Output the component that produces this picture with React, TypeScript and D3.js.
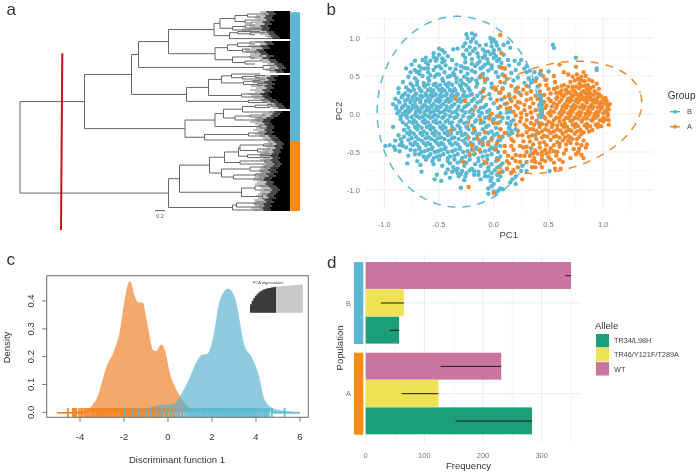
import React from "react";
import * as d3 from "d3";

// a: tree, n(depth, ...children), l(depth, tipRow)
type TreeNode = { depth: number; row?: number; children?: TreeNode[] };
const n = (depth: number, ...children: TreeNode[]): TreeNode => ({ depth, children });
const l = (depth: number, row: number): TreeNode => ({ depth, row });

const treeData = n(0,
  n(1.29,
    n(2.23,
      n(2.37,
        n(2.97,
          n(3.88,
            n(4.0,
              n(4.3, n(4.55, l(4.95, 1), l(4.8, 2.5)), n(4.5, l(4.8, 4), l(4.65, 5.5))),
              n(4.25, n(4.5, l(4.7, 6.5), l(4.9, 8)), n(4.45, l(4.85, 8.6), l(4.65, 9.4)))),
            n(4.19,
              n(4.35, l(4.8, 9.8), n(4.6, l(4.9, 10.4), l(4.7, 11.4))),
              l(5.2, 13.3))),
          n(3.9,
            n(4.15,
              n(4.35, n(4.6, l(4.9, 15), l(4.7, 16)), l(4.85, 17.3)),
              n(4.45, l(4.6, 18.5), n(4.7, l(4.9, 19.5), l(4.75, 20.5)))),
            n(4.25,
              n(4.6, l(4.85, 22), l(4.7, 23)),
              n(4.5, l(4.85, 24.5), l(4.7, 26))))),
        n(4.86, l(5.1, 26.8), n(5.0, l(5.1, 28), l(5.2, 29.3)))),
      n(3.33,
        n(3.77,
          n(4.03,
            n(4.23, l(4.8, 31), n(4.45, n(4.7, l(4.9, 31.8), l(4.8, 32.6)), l(4.9, 33.5))),
            n(4.47, n(4.65, l(4.8, 34.3), l(4.9, 35)), n(4.75, l(4.95, 35.8), l(4.85, 36.8)))),
          n(4.43, n(4.9, l(5.0, 40.5), l(5.1, 41.5)), n(4.95, l(5.05, 42), l(5.15, 43)))),
        n(4.57, n(4.85, l(5.0, 43.7), l(5.1, 44.5)), l(4.95, 45.3)))),
    n(3.3,
      n(3.9,
        n(4.07,
          n(4.45, n(4.7, n(4.95, l(5.05, 46.2), l(5.15, 47)), l(5.0, 47.8)), l(5.38, 50)),
          n(4.3, n(4.6, l(4.9, 51.5), l(4.85, 52.5)), n(4.75, l(5.0, 53.5), l(5.1, 54.5)))),
        n(4.8, n(5.0, l(5.1, 56), l(5.2, 57)), l(5.05, 58))),
      n(3.69,
        n(4.57, n(4.8, l(5.0, 60), l(5.1, 61)), l(4.9, 62)),
        l(5.2, 64)))),
  n(2.97,
    n(3.19,
      n(3.79,
        n(4.09,
          n(4.37,
            n(4.4, n(4.87, l(5.05, 66), l(5.15, 67)), n(4.75, l(5.0, 68.5), l(4.95, 70))),
            n(4.55, n(4.8, l(5.0, 71), l(5.1, 71.8)), l(5.0, 72.8))),
          n(4.4, n(4.9, l(5.0, 74), l(5.1, 75)), l(5.15, 76))),
        n(4.03,
          n(4.6, n(4.9, l(5.05, 77), l(5.15, 78)), n(4.85, l(5.0, 79), l(5.1, 80))),
          n(4.27, n(4.7, l(4.95, 81), l(5.05, 82)), n(4.8, l(5.0, 83), l(5.1, 84))))),
      n(4.43,
        n(4.7, l(5.0, 87), l(5.1, 89)),
        n(4.85, l(5.0, 91), n(5.0, l(5.1, 93), l(5.2, 94))))),
    n(4.25,
      n(4.33, n(4.7, l(5.0, 95), l(5.1, 96)), n(4.8, l(5.0, 97), l(5.1, 98))),
      l(5.0, 99))));

// depth at which each tip row of the fan turns black / grey (5.4 = the tips, i.e. a white gap)
const fanBlack = [4.96, 5.0, 4.94, 4.92, 4.96, 4.88, 4.92, 4.84, 4.88, 4.86, 4.96, 5.0, 5.04, 5.08, 5.4, 4.92, 4.96, 4.84, 4.88, 4.76,
  4.8, 4.84, 4.96, 4.88, 5.0, 5.04, 5.12, 5.16, 5.2, 5.12, 5.16, 5.4, 5.04, 4.96, 5.0, 4.92, 4.98, 4.92, 4.96, 4.88,
  4.92, 4.84, 4.88, 4.92, 5.0, 5.04, 5.12, 5.16, 5.2, 5.4, 5.12, 5.08, 5.04, 4.96, 4.9, 4.88, 4.92, 4.96, 4.96, 4.92,
  4.96, 4.92, 5.0, 5.04, 5.08, 5.12, 5.16, 5.12, 5.14, 5.08, 5.1, 5.06, 5.04, 5.08, 5.04, 5.08, 5.12, 5.08, 5.04, 5.0,
  5.04, 4.96, 5.0, 4.92, 4.9, 4.96, 4.94, 5.0, 5.04, 5.08, 5.04, 5.0, 4.96, 5.0, 4.92, 4.96, 4.9, 4.92, 4.88, 4.9];
const fanGrey = [4.8, 4.85, 4.72, 4.7, 4.78, 4.62, 4.7, 4.58, 4.62, 4.66, 4.75, 4.8, 4.9, 4.95, 5.4, 4.7, 4.8, 4.56, 4.62, 4.5,
  4.52, 4.6, 4.78, 4.62, 4.8, 4.85, 4.95, 5.0, 5.0, 4.92, 5.0, 5.4, 4.82, 4.7, 4.78, 4.66, 4.76, 4.62, 4.72, 4.6,
  4.7, 4.56, 4.62, 4.68, 4.8, 4.85, 4.95, 5.0, 5.05, 5.4, 4.98, 4.85, 4.82, 4.7, 4.65, 4.6, 4.7, 4.75, 4.72, 4.66,
  4.75, 4.7, 4.78, 4.85, 4.9, 4.95, 4.98, 4.9, 4.95, 4.85, 4.9, 4.82, 4.8, 4.86, 4.8, 4.88, 4.92, 4.85, 4.8, 4.78,
  4.8, 4.72, 4.78, 4.68, 4.66, 4.74, 4.7, 4.78, 4.82, 4.88, 4.8, 4.76, 4.72, 4.76, 4.68, 4.72, 4.66, 4.7, 4.62, 4.66];

// b: scores as x,y pairs
const pointsB = [
  -.25,1.05,-.2,1.06,-.17,1.04,-.24,1.0,-.19,.99,-.03,1.0,0,.98,-.21,.95,-.16,.94,-.26,.93,-.02,.95,.02,.94,.13,.94,-.28,.89,-.22,.88,-.13,.9,-.07,.91,-.02,.89,.03,.9,.09,.91,.15,.87,.54,.91,.55,.87,
  -.5,.86,-.47,.84,-.37,.85,-.33,.86,-.25,.84,-.19,.83,-.1,.85,-.05,.82,0,.84,.05,.85,-.55,.8,-.5,.78,-.45,.81,-.22,.79,-.15,.8,-.08,.77,-.03,.79,.02,.76,.09,.78,
  -.62,.74,-.55,.75,-.47,.73,-.42,.76,-.26,.74,-.2,.72,-.14,.75,-.06,.72,0,.74,-.72,.7,-.62,.68,-.53,.7,-.47,.68,-.38,.71,-.26,.68,-.2,.66,-.13,.69,-.05,.67,.03,.7,.13,.71,.19,.7,.25,.71,.75,.74,
  -.75,.65,-.68,.63,-.6,.65,-.53,.62,-.44,.64,-.34,.65,-.17,.63,-.1,.62,-.02,.64,.05,.62,.14,.64,.23,.66,.3,.63,-.8,.6,-.72,.58,-.63,.6,-.55,.58,-.48,.6,-.35,.59,-.27,.61,-.2,.57,-.12,.6,-.05,.57,.1,.6,.2,.58,.28,.6,.33,.57,.94,.6,.94,.58,
  -.76,.55,-.68,.53,-.6,.55,-.52,.52,-.45,.55,-.37,.54,-.3,.56,-.24,.53,-.17,.55,-.1,.53,.02,.55,.08,.52,.16,.54,.3,.55,.42,.53,.5,.56,
  -.78,.49,-.72,.47,-.65,.5,-.6,.47,-.54,.49,-.47,.46,-.4,.5,-.34,.47,-.27,.49,-.2,.46,-.13,.48,-.06,.46,.04,.49,.12,.46,.22,.48,.32,.47,.47,.45,.39,.47,
  -.83,.42,-.76,.4,-.7,.43,-.64,.41,-.59,.44,-.53,.4,-.46,.43,-.41,.41,-.34,.42,-.28,.4,-.22,.43,-.15,.4,-.08,.42,-.02,.4,.1,.41,.18,.44,.28,.41,.35,.43,.4,.36,
  -.87,.34,-.8,.35,-.74,.37,-.68,.34,-.63,.36,-.58,.33,-.52,.36,-.47,.33,-.42,.36,-.36,.33,-.3,.36,-.23,.34,-.16,.36,-.09,.33,-.02,.35,.08,.34,.2,.33,.32,.36,.42,.3,
  -.87,.28,-.81,.27,-.76,.3,-.71,.27,-.66,.3,-.62,.27,-.57,.29,-.53,.26,-.48,.29,-.43,.27,-.38,.29,-.33,.26,-.27,.29,-.2,.26,-.12,.28,-.04,.26,.05,.28,.14,.26,.23,.28,.43,.24,
  -.9,.2,-.84,.22,-.79,.19,-.74,.22,-.7,.2,-.65,.23,-.6,.2,-.56,.23,-.51,.2,-.47,.23,-.42,.2,-.37,.23,-.31,.2,-.25,.23,-.18,.2,-.1,.22,-.03,.2,.07,.19,.15,.2,.43,.18,
  -.92,.13,-.86,.15,-.81,.12,-.76,.15,-.72,.12,-.67,.15,-.63,.12,-.59,.16,-.55,.13,-.5,.16,-.46,.13,-.41,.16,-.36,.13,-.3,.16,-.23,.13,-.15,.15,-.07,.12,0,.14,.1,.13,.44,.12,
  -.89,.07,-.84,.08,-.79,.05,-.74,.08,-.7,.05,-.66,.08,-.61,.06,-.57,.09,-.53,.06,-.49,.09,-.44,.06,-.39,.09,-.33,.06,-.27,.09,-.2,.06,-.12,.08,-.04,.05,.04,.08,.44,.06,
  -.88,.01,-.83,.0,-.78,.02,-.72,-.01,-.67,.02,-.63,-.01,-.58,.02,-.54,-.01,-.49,.02,-.44,-.01,-.38,.02,-.33,-.01,-.26,.02,-.19,-.01,-.11,.01,-.03,-.01,.06,.01,.43,.0,
  -.85,-.07,-.79,-.05,-.73,-.08,-.68,-.05,-.63,-.08,-.58,-.05,-.53,-.08,-.47,-.05,-.42,-.08,-.36,-.05,-.3,-.08,-.23,-.05,-.16,-.08,-.08,-.05,0,-.07,.08,-.05,
  -.92,-.17,-.8,-.14,-.74,-.12,-.69,-.15,-.63,-.12,-.58,-.15,-.52,-.12,-.46,-.15,-.4,-.12,-.33,-.15,-.27,-.12,-.2,-.15,-.12,-.12,-.05,-.15,.03,-.12,.12,-.12,
  -.82,-.21,-.76,-.23,-.7,-.2,-.64,-.23,-.58,-.2,-.53,-.23,-.47,-.2,-.42,-.23,-.36,-.2,-.3,-.23,-.23,-.2,-.17,-.23,-.1,-.2,-.02,-.23,.06,-.2,.14,-.19,
  -.87,-.28,-.82,-.3,-.77,-.27,-.71,-.3,-.65,-.28,-.59,-.31,-.54,-.28,-.48,-.31,-.42,-.28,-.36,-.31,-.29,-.28,-.23,-.31,-.15,-.28,-.08,-.31,0,-.28,.08,-.3,
  -.9,-.35,-.84,-.37,-.78,-.34,-.72,-.37,-.66,-.35,-.6,-.38,-.54,-.35,-.48,-.38,-.41,-.35,-.35,-.38,-.28,-.35,-.21,-.38,-.13,-.35,-.05,-.37,.04,-.35,
  -.99,-.42,-.95,-.41,-.91,-.43,-.86,-.41,-.8,-.44,-.74,-.41,-.68,-.44,-.62,-.41,-.56,-.44,-.5,-.41,-.44,-.44,-.38,-.41,-.31,-.44,-.24,-.41,-.16,-.44,-.1,-.41,-.02,-.44,.06,-.42,
  -.9,-.47,-.86,-.49,-.72,-.48,-.66,-.5,-.6,-.47,-.54,-.5,-.48,-.47,-.42,-.5,-.35,-.47,-.28,-.5,-.2,-.47,-.12,-.5,-.04,-.47,.04,-.5,
  -.78,-.55,-.72,-.53,-.64,-.56,-.58,-.53,-.52,-.56,-.46,-.53,-.4,-.56,-.33,-.53,-.26,-.56,-.18,-.53,-.1,-.56,-.02,-.53,.06,-.56,
  -.79,-.65,-.7,-.62,-.62,-.6,-.56,-.62,-.5,-.6,-.42,-.62,-.36,-.6,-.3,-.62,-.22,-.6,-.14,-.62,-.06,-.6,.02,-.62,.08,-.65,
  -.67,-.67,-.55,-.66,-.47,-.68,-.37,-.7,-.42,-.73,-.33,-.72,-.27,-.68,-.2,-.72,-.12,-.68,-.05,-.7,.04,-.7,.12,-.72,.26,-.68,
  -.66,-.76,-.38,-.76,-.33,-.78,-.25,-.78,-.18,-.75,-.08,-.77,-.02,-.78,.08,-.76,.25,-.75,.51,-.75,
  -.52,-.8,-.32,-.82,-.26,-.82,-.18,-.8,-.08,-.82,-.02,-.84,.06,-.82,.2,-.82,
  -.54,-.86,-.48,-.88,-.4,-.84,-.27,-.87,-.12,-.86,-.03,-.88,.04,-.87,.17,-.86,.15,-.9,
  -.3,-.97,-.02,-.95,.0,-.92,-.05,-.98,.06,-.98,.08,-.99,-.05,-1.05,.0,-1.02,.02,-1.05,.04,-1.01];
// second pass over the crowded part of the B cloud
const pointsBDense = [
  -.7,.385,-.64,.38,-.6,.39,-.55,.385,-.49,.38,-.44,.39,-.38,.385,-.31,.38,-.25,.38,-.78,.315,-.73,.32,-.67,.31,-.6,.315,-.55,.31,-.5,.32,-.45,.31,-.4,.315,-.35,.31,-.29,.32,-.22,.31,
  -.83,.245,-.78,.24,-.72,.25,-.67,.24,-.62,.245,-.58,.24,-.54,.25,-.49,.24,-.44,.245,-.39,.24,-.34,.25,-.28,.24,-.22,.245,-.15,.24,-.87,.17,-.81,.175,-.76,.18,-.72,.17,-.67,.18,-.62,.17,-.58,.185,-.53,.175,-.49,.18,-.44,.17,-.39,.18,-.33,.17,-.27,.18,-.2,.17,-.12,.17,
  -.89,.1,-.83,.1,-.78,.09,-.74,.105,-.7,.09,-.65,.1,-.61,.09,-.57,.105,-.52,.1,-.48,.11,-.43,.1,-.38,.11,-.32,.1,-.25,.11,-.17,.1,-.09,.09,-.86,.04,-.81,.03,-.76,.045,-.71,.03,-.68,.05,-.63,.035,-.59,.045,-.55,.035,-.51,.045,-.46,.03,-.41,.045,-.35,.03,-.29,.045,-.22,.03,-.14,.04,-.06,.03,
  -.85,-.03,-.8,-.025,-.75,-.04,-.7,-.03,-.65,-.04,-.6,-.03,-.56,-.04,-.51,-.03,-.46,-.04,-.4,-.03,-.34,-.04,-.28,-.03,-.21,-.04,-.13,-.03,-.05,-.04,.03,-.03,-.83,-.11,-.77,-.1,-.71,-.11,-.65,-.1,-.6,-.11,-.55,-.1,-.49,-.11,-.44,-.1,-.38,-.11,-.31,-.1,-.24,-.11,-.17,-.1,-.09,-.11,-.01,-.1,.06,-.1,
  -.78,-.18,-.72,-.17,-.66,-.18,-.61,-.17,-.55,-.185,-.49,-.17,-.44,-.18,-.38,-.17,-.31,-.18,-.25,-.17,-.18,-.18,-.07,-.17,.02,-.18,-.79,-.25,-.73,-.26,-.67,-.25,-.61,-.26,-.56,-.25,-.5,-.26,-.45,-.25,-.39,-.26,-.33,-.25,-.26,-.26,-.19,-.25,-.13,-.26,-.05,-.25,.03,-.26,.12,-.25,
  -.85,-.33,-.75,-.32,-.69,-.33,-.62,-.32,-.57,-.33,-.51,-.32,-.45,-.33,-.38,-.32,-.32,-.33,-.25,-.32,-.18,-.33,-.1,-.33,-.02,-.32,.06,-.34,-.83,-.42,-.76,-.39,-.7,-.4,-.64,-.38,-.58,-.4,-.52,-.38,-.46,-.4,-.4,-.38,-.33,-.4,-.26,-.38,-.19,-.4,-.13,-.38,-.05,-.4,.02,-.42,
  -.76,-.47,-.68,-.46,-.63,-.49,-.57,-.46,-.51,-.49,-.45,-.46,-.38,-.49,-.31,-.46,-.24,-.49,-.16,-.46,-.08,-.49,.0,-.46,-.68,-.53,-.6,-.56,-.55,-.58,-.49,-.55,-.42,-.58,-.36,-.55,-.29,-.58,-.22,-.55,-.14,-.58,-.06,-.55,.03,-.58,
  -.4,-.65,-.33,-.64,-.25,-.64,-.17,-.66,-.09,-.65,-.02,-.66,.06,-.68,-.35,-.74,-.29,-.75,-.22,-.74,-.14,-.76,-.05,-.74,.01,-.74,-.3,-.79,-.14,-.8,-.05,-.82,.03,-.8,-.44,-.78,
  -.68,.56,-.58,.51,-.5,.52,-.42,.49,-.36,.51,-.3,.44,-.24,.46,-.16,.44,-.1,.49,-.6,.6,-.5,.63,-.4,.6,-.3,.63,-.24,.6,-.7,.55,-.15,.66,-.08,.65,-.02,.6,.07,.67,-.1,.74,-.28,.78,-.17,.86,-.08,.82,.0,.8,.05,.72,-.52,.73,-.58,.7,-.65,.71,-.45,.7,-.66,.6];
const pointsA = [
  .06,1.04,.07,.8,.07,.61,.1,.6,-.35,.2,-.26,.17,-.39,-.22,-.23,-.96,0,-1.04,.6,.65,.75,.62,.82,.55,.64,.55,.43,.57,.45,.5,.55,.5,.68,.52,.8,.49,.84,.5,.77,.46,
  -.12,.5,-.08,.45,.1,.5,.06,.42,.0,.35,.02,.32,.08,.33,.06,.28,-.1,.3,.16,.37,.2,.3,.27,.32,.3,.37,.38,.43,.48,.38,.56,.42,.62,.37,.7,.42,.72,.36,.78,.4,.83,.43,.86,.38,.94,.4,
  .14,.24,.19,.22,.25,.25,.3,.27,.38,.24,.42,.29,.52,.27,.55,.33,.6,.28,.66,.32,.7,.27,.74,.3,.78,.34,.82,.3,.85,.33,.88,.27,.92,.3,.96,.26,.58,.22,.64,.24,.68,.2,.72,.23,.76,.2,.8,.24,.84,.21,.88,.22,.92,.19,.95,.22,1.0,.19,1.02,.21,
  .12,.14,.16,.17,.2,.11,.24,.15,.3,.18,.36,.14,.4,.2,.46,.16,.5,.2,.55,.14,.6,.16,.65,.13,.69,.16,.73,.12,.77,.15,.81,.12,.85,.15,.89,.12,.93,.15,.97,.12,1.01,.14,1.04,.1,
  .12,.07,.18,.03,.22,.08,.28,.05,.33,.09,.38,.05,.47,.08,.52,.04,.57,.08,.62,.05,.66,.08,.7,.04,.74,.07,.78,.03,.82,.07,.86,.04,.9,.07,.94,.03,.98,.07,1.02,.04,1.05,.06,
  -.02,.0,.05,-.03,.2,-.02,.25,-.05,.3,-.01,.35,-.05,.41,-.02,.47,-.06,.52,-.02,.57,-.05,.62,-.01,.66,-.05,.7,-.02,.74,-.05,.79,-.02,.83,-.05,.87,-.01,.91,-.05,.95,-.02,1.0,-.05,1.04,-.02,1.05,-.08,
  .24,-.1,.3,-.08,.34,-.12,.39,-.09,.44,-.13,.5,-.1,.54,-.14,.6,-.1,.65,-.13,.7,-.09,.75,-.13,.8,-.1,.85,-.13,.9,-.09,.95,-.13,1.0,-.1,1.05,-.14,.95,-.17,
  -.18,-.2,-.08,-.24,.14,-.17,.3,-.17,.36,-.2,.42,-.17,.47,-.2,.53,-.17,.58,-.2,.64,-.17,.69,-.21,.74,-.17,.79,-.21,.85,-.18,.9,-.21,.82,-.24,
  -.15,-.32,-.02,-.34,.05,-.3,.14,-.28,.22,-.28,.3,-.24,.35,-.28,.41,-.25,.46,-.29,.52,-.25,.57,-.29,.63,-.26,.68,-.29,.74,-.26,.78,-.3,.68,-.35,.72,-.33,.82,-.35,
  -.05,-.4,.03,-.38,.1,-.42,.18,-.36,.27,-.36,.33,-.36,.39,-.33,.46,-.37,.52,-.34,.58,-.37,.63,-.35,.66,-.4,.8,-.41,.85,-.4,.84,-.44,.78,-.46,
  -.13,-.47,.02,-.47,.1,-.5,.18,-.47,.27,-.44,.34,-.45,.38,-.48,.42,-.44,.47,-.47,.52,-.45,.55,-.49,.6,-.43,.73,-.46,.77,-.5,.75,-.53,.8,-.54,.82,-.58,
  -.22,-.53,.04,-.6,.13,-.55,.17,-.58,.24,-.55,.33,-.55,.37,-.58,.4,-.52,.44,-.55,.48,-.52,.5,-.57,.57,-.55,.64,-.52,.7,-.58,
  -.28,-.63,-.07,-.64,.14,-.65,.2,-.62,.3,-.63,.38,-.63,.42,-.65,.47,-.62,.55,-.64,.63,-.63,.12,-.72,.18,-.74,.16,-.78,.26,-.86,.05,-.77,.35,-.7,.44,-.7,.56,-.72,.61,-.72];
// second pass over the crowded part of the A cloud
const pointsADense = [
  .76,.52,.8,.44,.74,.44,.72,.49,.87,.45,.9,.43,.58,.35,.64,.38,.68,.36,.75,.36,.8,.37,.83,.37,.88,.34,.91,.36,.96,.33,
  .57,.28,.62,.31,.68,.29,.72,.32,.76,.26,.8,.28,.84,.27,.87,.3,.91,.25,.94,.27,.98,.23,.62,.25,.66,.27,.7,.21,.74,.26,.78,.24,.82,.21,.86,.25,.9,.18,.94,.18,.98,.16,1.03,.17,
  .52,.17,.57,.2,.62,.19,.67,.17,.71,.18,.75,.17,.79,.19,.83,.18,.87,.19,.91,.16,.95,.15,.99,.15,1.03,.13,1.06,.13,.48,.11,.53,.1,.58,.12,.63,.1,.67,.11,.71,.09,.75,.1,.79,.09,.83,.1,.87,.09,.91,.1,.95,.09,.99,.09,1.04,.07,
  .44,.03,.5,.01,.55,.03,.6,.01,.64,.03,.68,.01,.72,.03,.76,.0,.8,.02,.84,.0,.88,.02,.92,.0,.96,.03,1.0,.01,1.04,.0,.46,-.04,.55,-.08,.6,-.05,.64,-.08,.68,-.05,.72,-.08,.77,-.06,.81,-.08,.85,-.06,.89,-.08,.93,-.05,.97,-.08,1.02,-.07,
  .37,-.14,.42,-.12,.48,-.14,.53,-.12,.58,-.15,.62,-.14,.67,-.17,.72,-.14,.77,-.16,.83,-.15,.88,-.16,.93,-.14,.98,-.16,.33,-.2,.39,-.22,.44,-.23,.5,-.22,.55,-.23,.61,-.22,.66,-.23,.71,-.22,.76,-.23,.8,-.26,.87,-.23,
  .32,-.3,.38,-.28,.44,-.31,.49,-.3,.55,-.3,.6,-.31,.65,-.31,.7,-.31,.76,-.33,.36,-.4,.42,-.38,.48,-.41,.55,-.41,.6,-.39,.7,-.38,.76,-.39,.3,-.5,.36,-.52,.44,-.5,.51,-.5,.58,-.5,.66,-.47,.35,-.62,.44,-.6,.52,-.6,.6,-.6,.24,-.63,.22,-.7,.38,-.7,
  .22,.16,.28,.12,.34,.2,.42,.12,.15,.08,.25,.01,.34,.02,.2,-.14,.28,-.14,.22,-.22,.26,-.28,.16,-.33,.1,-.25,.06,-.2,.16,-.42,.24,-.42,.3,-.43,.12,-.62,.2,-.54,.28,-.55,-.04,-.06,.0,-.12,.04,-.12,-.1,-.38,-.2,-.42,-.12,-.08,.03,.18,.1,.22,.06,.1,.22,.35,.34,.3,.42,.38,.5,.33,.46,.25,.48,.45];
// blue dots that sit over the orange ones
const pointsBTop = [.43,.2,.43,.15,.43,.1,.43,.05,.44,0,.43,-.04,.42,.25,.16,-.1,.15,-.14,.14,-.18,.16,-.22,.17,-.25,.14,-.27,.13,-.05,.18,-.08,.2,-.2,.12,.02,.15,.03,.32,.46,.34,.41,.37,.55,.43,.52,.3,-.75,.2,-.92];

const groupEllipses = [
  { group: "B", cx: -.33, cy: .03, ax: .735, ay: 0, bx: 0, by: 1.255 },
  { group: "A", cx: .557, cy: -.044, ax: .785, ay: .303, bx: .125, by: -.673 },
];
const ellipseAngles = d3.range(0, 6.3, .05);

// c: density curves
const densityX_A = [-5.05, -4.5, -3.8, -3.6, -3.4, -3.24, -2.79, -2.41, -2.18, -1.95, -1.73, -1.5, -1.35, -1.15, -.97, -.67, -.55, -.3, -.14, .09, .39, .85, 1.15, 1.45];
const densityY_A = [0, .001, .004, .012, .03, .05, .164, .23, .296, .415, .472, .415, .395, .395, .332, .224, .22, .244, .224, .14, .08, .026, .008, 0];
const densityX_B = [-2.1, -1.27, -.36, .24, .62, 1.0, 1.3, 1.53, 1.79, 2.06, 2.36, 2.74, 3.05, 3.5, 3.8, 4.1, 4.4, 4.8, 5.4, 6.0];
const densityY_B = [0, .008, .026, .03, .068, .128, .182, .206, .21, .272, .404, .445, .41, .236, .2, .14, .044, .014, .005, 0];
const rugA = [-4.55, -4.32, -4.28, -4.22, -4.18, -4.05, -3.95, -3.9, -3.8, -3.75, -3.68, -3.6, -3.52, -3.45, -3.4, -3.35, -3.28, -3.22, -3.17, -3.12, -3.06, -3.01, -2.95, -2.9, -2.84, -2.78, -2.72, -2.66, -2.6, -2.55, -2.49, -2.43, -2.37, -2.32, -2.26, -2.2, -2.14, -2.09, -2.03, -1.97, -1.91, -1.85, -1.79, -1.73, -1.67, -1.62, -1.56, -1.5, -1.44, -1.38, -1.32, -1.26, -1.2, -1.14, -1.08, -1.02, -.96, -.9, -.84, -.78, -.72, -.66, -.6, -.54, -.48, -.42, -.36, -.3, -.24, -.16, -.08, -.02, .06, .14, .22, .3, .38, .5, .62];
const rugB = [-2.0, -1.6, -1.3, -1.0, -.8, -.55, -.3, -.1, .1, .25, .4, .52, .64, .74, .84, .92, 1.0, 1.07, 1.14, 1.21, 1.28, 1.35, 1.42, 1.49, 1.56, 1.62, 1.68, 1.74, 1.8, 1.86, 1.92, 1.98, 2.04, 2.1, 2.16, 2.22, 2.28, 2.34, 2.4, 2.46, 2.52, 2.58, 2.64, 2.7, 2.76, 2.82, 2.88, 2.94, 3.0, 3.06, 3.12, 3.18, 3.24, 3.3, 3.36, 3.42, 3.48, 3.54, 3.6, 3.66, 3.72, 3.78, 3.84, 3.9, 3.96, 4.02, 4.08, 4.15, 4.22, 4.3, 4.38, 4.44, 4.5, 4.58, 4.72, 5.3];
const eigenDark = [.3, .42, .52, .6, .66, .72, .76, .79, .82, .84, .86, .87, .88, .895, .905, .915];
const eigenLight = [.92, .925, .93, .935, .94, .945, .95, .955, .96, .965, .97, .975, .98, .985, .99, 1.0];

// d: allele counts, and where each error line starts
const populations = ["B", "A"];
const alleles = ["WT", "TR46/Y121F/T289A", "TR34/L98H"];
const legendAlleles = ["TR34/L98H", "TR46/Y121F/T289A", "WT"];
const freqB = [350, 65, 57];
const freqA = [231, 124, 283.5];
const errLowB = [340, 26, 41];
const errLowA = [128, 61, 153];
const freqTicks = [0, 100, 200, 300];
const freqMinor = [50, 150, 250, 350];

const BLUE = "#5bb8d2";
const ORANGE = "#f28a2d";
const STRIP_ORANGE = "#f78c09";
const alleleColor: Record<string, string> = { "TR34/L98H": "#1b9e77", "TR46/Y121F/T289A": "#efe355", WT: "#c9749f" };
const FONT = "'Liberation Sans', Arial, sans-serif";

const pairs = (flat: number[]) => d3.range(0, flat.length, 2).map((i) => [flat[i], flat[i + 1]]);

function PanelA() {
  const x = d3.scaleLinear().domain([0, 5.4]).range([20, 290]);
  const y = d3.scaleLinear().domain([0, 100]).range([12, 212]);
  const root = d3.hierarchy<TreeNode>(treeData);
  const rowOf = new Map<any, number>();
  root.eachAfter((d) => {
    if (d.children) rowOf.set(d, (rowOf.get(d.children[0])! + rowOf.get(d.children[d.children.length - 1])!) / 2);
    else rowOf.set(d, d.data.row!);
  });
  const nodes = root.descendants();
  const rows = d3.range(fanBlack.length);
  const tipX = x(5.4);
  return (
    <g>
      {rows.map((i) => fanGrey[i] < 5.4 && <line key={i} x1={x(fanGrey[i])} x2={tipX} y1={y(i)} y2={y(i)} stroke="#a8a8a8" strokeWidth={1.6} />)}
      <g fill="none" stroke="#666" strokeWidth={1}>
        {nodes.filter((d) => d.parent).map((d, i) => (
          <path key={i} d={`M${x(d.parent!.data.depth)},${y(rowOf.get(d)!)}H${x(d.data.depth)}`} />
        ))}
        {nodes.filter((d) => d.children).map((d, i) => (
          <path key={i} d={`M${x(d.data.depth)},${y(rowOf.get(d.children![0])!)}V${y(rowOf.get(d.children![d.children!.length - 1])!)}`} />
        ))}
      </g>
      {rows.map((i) => fanBlack[i] < 5.4 && <line key={i} x1={x(fanBlack[i] + .12)} x2={tipX} y1={y(i)} y2={y(i)} stroke="#000" strokeWidth={2} />)}
      {rows.map((i) => fanBlack[i] < 5.4 && <line key={i} x1={x(fanBlack[i] - .03)} x2={tipX} y1={y(i)} y2={y(i)} stroke="#000" strokeWidth={1.2} />)}
      <rect x={290} y={12.3} width={10} height={128.7} fill={BLUE} />
      <rect x={290} y={141} width={10} height={70} fill={STRIP_ORANGE} />
      <line x1={62.3} y1={53.3} x2={61} y2={230} stroke="#c0161c" strokeWidth={2} />
      <line x1={x(2.7)} x2={x(2.9)} y1={210.7} y2={210.7} stroke="#333" strokeWidth={.8} />
      <text x={160} y={218} fontSize={5.5} textAnchor="middle" fill="#555">0.2</text>
    </g>
  );
}

function PanelB() {
  const x = d3.scaleLinear().domain([-1.176, 1.454]).range([365, 653]);
  const y = d3.scaleLinear().domain([-1.263, 1.276]).range([210, 17]);
  const major = [-1, -.5, 0, .5, 1];
  const minor = [-.75, -.25, .25, .75, 1.25];
  const line = d3.line<number[]>().x((d) => x(d[0])).y((d) => y(d[1]));
  const dot = (p: number[], i: number, c: string) => <circle key={i} cx={x(p[0])} cy={y(p[1])} r={2.2} fill={c} />;
  return (
    <g>
      {minor.map((t) => <line key={t} x1={x(t)} x2={x(t)} y1={17} y2={210} stroke="#f4f4f4" strokeWidth={.7} />)}
      {minor.map((t) => <line key={t} y1={y(t)} y2={y(t)} x1={365} x2={653} stroke="#f4f4f4" strokeWidth={.7} />)}
      {major.map((t) => <line key={t} x1={x(t)} x2={x(t)} y1={17} y2={210} stroke="#ececec" strokeWidth={1} />)}
      {major.map((t) => <line key={t} y1={y(t)} y2={y(t)} x1={365} x2={653} stroke="#ececec" strokeWidth={1} />)}
      {pairs(pointsB).map((p, i) => dot(p, i, BLUE))}
      {pairs(pointsBDense).map((p, i) => dot(p, i, BLUE))}
      {pairs(pointsA).map((p, i) => dot(p, i, ORANGE))}
      {pairs(pointsADense).map((p, i) => dot(p, i, ORANGE))}
      {pairs(pointsBTop).map((p, i) => dot(p, i, BLUE))}
      {groupEllipses.map((e) => (
        <path key={e.group} fill="none" stroke={e.group === "B" ? BLUE : ORANGE} strokeWidth={1.5} strokeDasharray="8 7"
          d={line(ellipseAngles.map((t) => [
            e.cx + e.ax * Math.cos(t) + e.bx * Math.sin(t),
            e.cy + e.ay * Math.cos(t) + e.by * Math.sin(t),
          ]))!} />
      ))}
      {major.map((t) => <text key={t} x={x(t)} y={227} fontSize={7.5} textAnchor="middle" fill="#777">{t.toFixed(1)}</text>)}
      {major.map((t) => <text key={t} x={360} y={y(t) + 2.7} fontSize={7.5} textAnchor="end" fill="#777">{t.toFixed(1)}</text>)}
      <text x={508.7} y={238} fontSize={9.5} textAnchor="middle" fill="#444">PC1</text>
      <text transform="translate(342,111) rotate(-90)" fontSize={9.5} textAnchor="middle" fill="#444">PC2</text>
      <text x={667.7} y={99} fontSize={10} fill="#333">Group</text>
      {["B", "A"].map((g) => {
        const c = g === "B" ? BLUE : ORANGE;
        const ky = d3.scalePoint().domain(["B", "A"]).range([111.7, 126.7])(g)!;
        return (
          <g key={g}>
            <line x1={670} x2={680} y1={ky} y2={ky} stroke={c} strokeWidth={1.5} />
            <circle cx={675} cy={ky} r={2} fill={c} />
            <text x={687} y={ky + 2.7} fontSize={7.5} fill="#444">{g}</text>
          </g>
        );
      })}
    </g>
  );
}

function PanelC() {
  const x = d3.scaleLinear().domain([-4, 6]).range([80, 300]);
  const y = d3.scaleLinear().domain([0, .4]).range([412.3, 301]);
  const area = d3.area<number[]>().x((d) => x(d[0])).y0(y(0)).y1((d) => y(d[1])).curve(d3.curveMonotoneX);
  const xTicks = [-4, -2, 0, 2, 4, 6];
  const yTicks = [0, .1, .2, .3, .4];
  const eigen = [...eigenDark, ...eigenLight];
  const ix = d3.scaleBand<number>().domain(d3.range(eigen.length)).range([250, 302]);
  const iy = d3.scaleLinear().domain([0, 1]).range([312.7, 284.5]);
  return (
    <g>
      <path d={area(densityX_A.map((v, i) => [v, densityY_A[i]]))!} fill="#ee791d" fillOpacity={.65} />
      <path d={area(densityX_B.map((v, i) => [v, densityY_B[i]]))!} fill="#53afcc" fillOpacity={.65} />
      {rugA.map((v) => <line key={v} x1={x(v)} x2={x(v)} y1={408} y2={417} stroke="#f5821f" strokeWidth={2} strokeOpacity={.85} />)}
      {rugB.map((v) => <line key={v} x1={x(v)} x2={x(v)} y1={408} y2={417} stroke="#5bb8d2" strokeWidth={2} strokeOpacity={.85} />)}
      <line x1={x(-5.05)} x2={x(-3.8)} y1={y(0) + .5} y2={y(0) + .5} stroke="#f5821f" strokeWidth={1.6} />
      <line x1={x(4.7)} x2={x(6)} y1={y(0) + .5} y2={y(0) + .5} stroke="#5bb8d2" strokeWidth={1.6} />
      {eigen.map((v, i) => (
        <rect key={i} x={ix(i)} y={iy(v)} width={ix.bandwidth() + .9} height={iy(0) - iy(v)} fill={i < eigenDark.length ? "#3b3b3b" : "#c9c9c9"} />
      ))}
      <text x={268} y={284} fontSize={4} textAnchor="middle" fill="#444">PCA eigenvalues</text>
      <rect x={46.7} y={275.7} width={261.6} height={141.6} fill="none" stroke="#777" strokeWidth={1.1} />
      <g stroke="#555" strokeWidth={.8}>
        {xTicks.map((t) => <line key={t} x1={x(t)} x2={x(t)} y1={417.3} y2={421.7} />)}
        {yTicks.map((t) => <line key={t} y1={y(t)} y2={y(t)} x1={42.3} x2={46.7} />)}
      </g>
      {xTicks.map((t) => <text key={t} x={x(t)} y={439.5} fontSize={9.5} textAnchor="middle" fill="#333">{t}</text>)}
      {yTicks.map((t) => (
        <text key={t} transform={`translate(33.5,${y(t)}) rotate(-90)`} fontSize={9.5} textAnchor="middle" fill="#333">{t.toFixed(1)}</text>
      ))}
      <text x={177} y={462.5} fontSize={9.5} textAnchor="middle" fill="#333">Discriminant function 1</text>
      <text transform="translate(9.5,347.5) rotate(-90)" fontSize={9.5} textAnchor="middle" fill="#333">Density</text>
    </g>
  );
}

function PanelD() {
  const x = d3.scaleLinear().domain([0, 300]).range([365.7, 541.7]);
  const outer = d3.scaleBand().domain(populations).range([262, 434.7]).paddingInner(.096);
  const inner = d3.scaleBand().domain(alleles).range([0, outer.bandwidth()]);
  const values: Record<string, number[]> = { B: freqB, A: freqA };
  const lows: Record<string, number[]> = { B: errLowB, A: errLowA };
  const keyY = d3.scaleBand().domain(legendAlleles).range([334, 375.5]).paddingInner(.05);
  return (
    <g>
      {freqMinor.map((t) => <line key={t} x1={x(t)} x2={x(t)} y1={255} y2={443} stroke="#f4f4f4" strokeWidth={.7} />)}
      {freqTicks.map((t) => <line key={t} x1={x(t)} x2={x(t)} y1={255} y2={443} stroke="#ececec" strokeWidth={1} />)}
      {populations.map((p) => {
        const cy = outer(p)! + outer.bandwidth() / 2;
        return (
          <g key={p}>
            <line x1={364} x2={581} y1={cy} y2={cy} stroke="#ececec" strokeWidth={1} />
            <rect x={354} y={outer(p)!} width={9.3} height={outer.bandwidth()} fill={p === "B" ? BLUE : STRIP_ORANGE} />
            <text x={351} y={cy + 2.7} fontSize={7.5} textAnchor="end" fill="#777">{p}</text>
            {alleles.map((a, i) => {
              const by = outer(p)! + inner(a)!;
              const mid = by + inner.bandwidth() / 2;
              return (
                <g key={a}>
                  <rect x={x(0)} y={by} width={x(values[p][i]) - x(0)} height={inner.bandwidth() - .4} fill={alleleColor[a]} />
                  <line x1={x(lows[p][i])} x2={x(values[p][i])} y1={mid} y2={mid} stroke="#1a1a1a" strokeWidth={1} />
                </g>
              );
            })}
          </g>
        );
      })}
      {freqTicks.map((t) => <text key={t} x={x(t)} y={457.5} fontSize={7.5} textAnchor="middle" fill="#777">{t}</text>)}
      <text x={468.5} y={469} fontSize={9.5} textAnchor="middle" fill="#333">Frequency</text>
      <text transform="translate(342.5,348) rotate(-90)" fontSize={9.5} textAnchor="middle" fill="#333">Population</text>
      <text x={595} y={329} fontSize={9.5} fill="#333">Allele</text>
      {legendAlleles.map((a) => (
        <g key={a}>
          <rect x={596} y={keyY(a)!} width={13} height={keyY.bandwidth()} fill={alleleColor[a]} />
          <text x={614} y={keyY(a)! + keyY.bandwidth() / 2 + 2.7} fontSize={7.3} fill="#444">{a}</text>
        </g>
      ))}
    </g>
  );
}

export default function App() {
  return (
    <svg width={696} height={473} viewBox="0 0 696 473" fontFamily={FONT}
      style={{ position: "absolute", left: 0, top: 0, background: "#fff" }}>
      <defs>
        <filter id="soft" x="0" y="0" width="696" height="473" filterUnits="userSpaceOnUse">
          <feGaussianBlur stdDeviation={.4} />
        </filter>
      </defs>
      <rect width={696} height={473} fill="#fff" />
      <g filter="url(#soft)">
        <PanelA />
        <PanelB />
        <PanelC />
        <PanelD />
        <text x={6.5} y={14.5} fontSize={17} fill="#333">a</text>
        <text x={326.5} y={14.5} fontSize={17} fill="#333">b</text>
        <text x={6.5} y={265} fontSize={17} fill="#333">c</text>
        <text x={327} y={268} fontSize={17} fill="#333">d</text>
      </g>
    </svg>
  );
}
